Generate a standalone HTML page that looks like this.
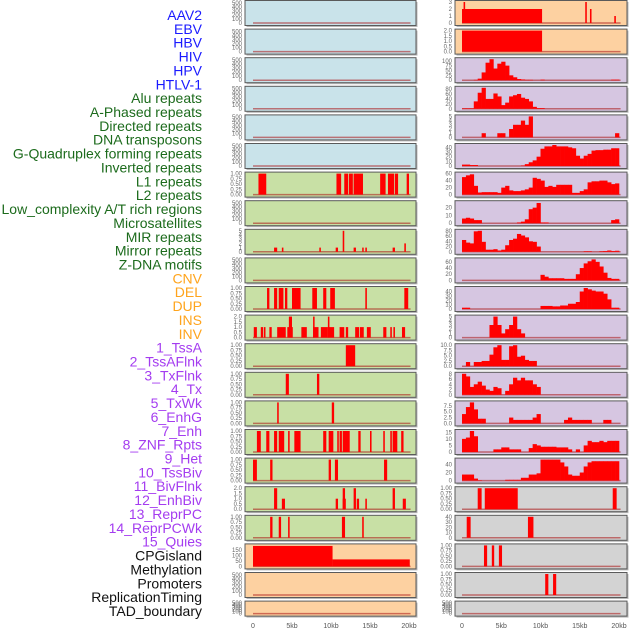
<!DOCTYPE html>
<html><head><meta charset="utf-8"><style>
html,body{margin:0;padding:0;background:#fff;}
svg{display:block;font-family:"Liberation Sans",sans-serif;}
</style></head><body>
<svg id="chart" width="630" height="630" viewBox="0 0 630 630" xmlns="http://www.w3.org/2000/svg"></svg>
<script>
// ---- category labels ----
const labelTexts = ["AAV2","EBV","HBV","HIV","HPV","HTLV-1","Alu repeats","A-Phased repeats","Directed repeats","DNA transposons","G-Quadruplex forming repeats","Inverted repeats","L1 repeats","L2 repeats","Low_complexity A/T rich regions","Microsatellites","MIR repeats","Mirror repeats","Z-DNA motifs","CNV","DEL","DUP","INS","INV","1_TssA","2_TssAFlnk","3_TxFlnk","4_Tx","5_TxWk","6_EnhG","7_Enh","8_ZNF_Rpts","9_Het","10_TssBiv","11_BivFlnk","12_EnhBiv","13_ReprPC","14_ReprPCWk","15_Quies","CPGisland","Methylation","Promoters","ReplicationTiming","TAD_boundary"];
const labelGroups = ["v","v","v","v","v","v","r","r","r","r","r","r","r","r","r","r","r","r","r","s","s","s","s","s","c","c","c","c","c","c","c","c","c","c","c","c","c","c","c","o","o","o","o","o"];
const xTickLabels = ["0","5kb","10kb","15kb","20kb"];
const xTickValues = [0,5,10,15,20];

// ---- right column histograms (0.5kb bins) ----
const hHIV = [0,0,0,2,8,40,90,108,60,85,95,75,25,15,6,4,2,2,0,0,3,0,0,0,0,0,0,0,0,0,0,0,0,0,0,0,0,0,3,3];
const hHPV = [2,2,2,30,65,85,40,40,62,50,15,25,50,55,60,45,40,30,8,3,3,0,0,0,0,0,0,0,0,0,0,0,0,0,0,0,0,0,0,0];
const hAlu = [0,0,0,0,0,1,0,0,0,1,1,0,2,3,3,4,3,5,0,0,0,0,0,0,0,0,0,0,0,0,0,0,0,0,0,0,0,0,0,1];
const hAPhased = [3,3,2,2,0,0,0,0,0,0,0,0,0,0,0,1,4,8,12,20,37,42,42,45,42,42,42,40,38,22,16,22,26,33,34,34,35,35,38,38];
const hDirected = [50,55,58,25,6,7,7,7,7,5,20,25,12,10,10,12,15,20,48,45,40,22,25,22,28,28,28,28,5,5,10,15,35,38,38,40,40,35,30,32];
const hDNA = [6,7,6,4,4,0,0,0,0,0,0,0,0,0,1,2,5,18,20,26,1,1,0,0,0,0,0,0,0,0,0,0,0,0,0,0,0,0,4,5];
const hRow8 = [45,35,32,78,80,38,8,8,10,5,8,25,45,50,68,62,55,40,38,20,0,0,0,0,0,0,0,0,0,0,0,2,2,0,0,2,3,5,3,4];
const hRow9 = [0,0,0,0,0,0,0,0,0,0,0,0,0,0,0,0,0,0,0,0,18,12,7,7,7,7,5,5,5,20,40,55,62,68,60,45,25,8,5,5];
const hRow10 = [3,3,0,0,0,0,0,0,0,0,0,0,0,0,0,0,0,0,0,0,7,7,7,6,6,8,8,12,12,16,40,48,45,42,40,40,35,22,3,3];
const hRow11 = [0,0,0,0,0,0,0,3,5,3,1,2,3,5,2,1,0,0,0,0,0,0,0,0,0,0,0,0,0,0,0,0,0,0,0,0,0,0,0,0];
const hRow12 = [0,2,0,2,2,2.5,2.5,5.5,9,10,3,3,9.5,10,4.5,5,3,2.5,2.5,0,0,0,0,0,0,0,0,0,0,0,0,0,0,0,0,0,0,0,0,0];
const hRow13 = [8,7,3,4,5,3.5,2,1.5,3,2.5,0,1.5,4,6.5,5.5,6.5,5.5,5.5,4,3,0,0,0,0,0,0,0,0,0,0,0,0,0,0,0,0,0,0,0,0];
const hRow14 = [4,7,9,6,2,2,0,0,0,0,0,0,2.5,1.5,1.5,1.5,1.5,1.5,2.5,4,0,0,0,0,0,0,1.5,2.5,1.5,1.5,1.5,1.5,1.5,0,0,0,1.5,1.5,0,0];
const hRow15 = [10,11,16,12,0,0,0,0,2,2,3.5,3.5,2,2,2,0,0,3,6,5,4,4,4,4,3.5,3.5,3.5,2,0,2,0,5,8.5,7.5,7.5,8.5,7.5,8.5,8.5,8.5];
const hRow16 = [15,15,15,5,1,0,0,0,0,0,0,2,2,2,2,7,7,15,15,18,52,52,52,52,52,45,35,15,12,12,20,35,45,48,48,48,48,48,48,48];

// ---- segment series [startKb, endKb, value] ----
const sAAV2 = [[0,10.2,2],[0.2,0.4,3],[15.7,15.9,3],[16.3,16.5,2],[19.4,19.6,1]];
const sEBV = [[0,10.2,2]];
const sGray17 = [[2.0,2.5,1],[2.9,7.1,1],[19.2,19.7,1]];
const sGray18 = [[0.6,1.1,40],[8.4,9.1,40]];
const sGray19 = [[2.8,3.2,1],[3.8,4.1,1],[4.7,5.1,1]];
const sGray20 = [[10.6,11.0,1],[11.6,12.0,1]];
const sL6 = [[0.7,1.7,1],[10.7,11.3,1],[11.7,12.2,1],[12.3,12.8,1],[12.9,14.1,1],[16.3,17,1],[17.3,18.1,1],[18.2,18.6,1],[19.7,20,1]];
const sL8 = [[2.7,3.1,1],[3.7,3.9,1],[8.5,8.7,1],[10.6,10.9,1],[11.5,11.7,5],[12.9,13.2,1],[14.0,14.1,1],[14.4,14.6,1],[17.9,18.2,1],[19.4,19.6,2]];
const sL10 = [[1.8,2.1,1],[2.7,3.1,1],[3.3,3.9,1],[4.1,4.4,1],[5.0,6.1,1],[7.6,8.2,1],[9.0,9.4,1],[9.9,10.5,1],[14.4,14.6,1],[19.4,19.9,1]];
const sL11 = [[0.1,0.5,1],[1.0,1.3,1],[1.4,1.6,1],[2.1,2.4,1],[3.1,4.2,1],[4.4,5.1,1],[4.6,5.0,2],[6.2,6.9,1],[7.7,8.4,1],[7.7,7.9,2],[8.7,9.5,1],[9.5,10.4,1],[9.6,9.8,2],[11.1,11.7,1],[11.9,12.2,1],[13.1,13.6,1],[13.7,14.2,1],[14.6,15.1,1],[16.7,17.1,1],[17.6,17.8,1],[18.0,18.2,1],[19.1,19.5,1]];
const sL12 = [[11.9,13.1,1]];
const sL13 = [[4.2,4.6,1],[8.2,8.5,1]];
const sL14 = [[3.1,3.3,1],[10.1,10.4,1]];
const sL15 = [[0.5,1.0,1],[1.7,2.1,1],[2.7,3.1,1],[3.3,4.0,1],[4.5,4.7,1],[5.3,6.1,1],[9.0,9.4,1],[9.7,10.3,1],[10.8,11.0,1],[11.1,11.4,1],[11.5,12.4,1],[13.5,13.8,1],[15.0,15.2,1],[16.7,16.9,1],[17.6,17.8,1],[17.9,18.5,1],[19.0,19.3,1]];
const sL16 = [[0.0,0.5,1],[2.2,2.5,1],[9.7,10.0,1],[10.5,10.9,1],[16.8,17.2,1]];
const sL17 = [[2.7,3.1,2],[3.7,4.1,1],[10.6,10.9,1],[11.5,11.8,2],[11.5,11.9,1],[12.9,13.2,2],[13.3,13.6,1],[14.4,14.6,1],[17.9,18.2,2],[19.2,19.6,1]];
const sL18 = [[2.2,2.5,1],[3.3,3.6,1],[4.5,4.7,1],[11.4,11.8,1],[14.0,14.2,1]];
const sL19 = [[0,10.2,190],[10.2,20.1,65]];

// ---- tick label sets ----
const tEmpty = [0,100,200,300,400,500];
const tUnit = [0,0.25,0.5,0.75,1];
const tUnitLbl = ["0.00","0.25","0.50","0.75","1.00"];

const COL = {blue:"#c9e3ea", green:"#c8e0a5", orange:"#fdd1a1", purple:"#d6c6e1", gray:"#d3d3d3"};
const LBLCOL = {v:"#1a1aff", r:"#1c6b1c", s:"#ffa41c", c:"#a43cf0", o:"#111"};

const svg = document.getElementById('chart');
const NS = "http://www.w3.org/2000/svg";
function mk(tag, attrs, parent){
  const e = document.createElementNS(NS, tag);
  for (const k in attrs) e.setAttribute(k, attrs[k]);
  (parent||svg).appendChild(e);
  return e;
}
// axis functions
function xL(kb){ return 253 + kb*7.8; }
function xR(kb){ return 462 + kb*7.85; }
function rowTop(i){ return 0.5 + i*28.6; }
function rowH(i){ return i===21 ? 15 : 25; }

// left labels
labelTexts.forEach((t,i)=>{
  const e = mk('text',{x:202,y:15+i*13.86+5,'text-anchor':'end','font-size':'14',fill:LBLCOL[labelGroups[i]]});
  e.textContent = t;
  
  
});

function panel(col, i, bg, yMax, ticks, tickLbls, hist, segs){
  const xf = col==='L' ? xL : xR;
  const left = col==='L' ? 245 : 455;
  const w = col==='L' ? 171 : 172;
  const top = rowTop(i), h = rowH(i);
  const g = mk('g',{});
  
  
  mk('rect',{x:left+1.5,y:top+1.5,width:w,height:h,fill:'#b8b8b8'},g);
  const bgr = mk('rect',{x:left,y:top,width:w,height:h,fill:bg,stroke:'#5a5a5a','stroke-width':1},g);
  
  
  const base = top + h - 2.5;
  const sc = (h - 4) / yMax;
  const yf = v => base - v*sc;
  // y ticks
  ticks.forEach((t,k)=>{
    const e = mk('text',{x:left-3,y:yf(t)+2,'text-anchor':'end','font-size':'6',fill:'#666'},g);
    e.textContent = tickLbls ? tickLbls[k] : String(t);
    
    
  });
  // baseline
  const bl = mk('line',{x1:xf(0),x2:xf(20.2),y1:base,y2:base,stroke:'rgba(170,20,20,0.55)','stroke-width':1.5},g);
  
  
  if (hist){
    hist.forEach((v,k)=>{
      if (v<=0) return;
      const x0 = xf(k*0.5), x1 = xf(k*0.5+0.5);
      const r = mk('rect',{x:x0,y:yf(v),width:x1-x0+0.3,height:base-yf(v),fill:'#ff0000'},g);
      
      
    });
  }
  if (segs){
    segs.forEach(s=>{
      const x0 = xf(s[0]), x1 = xf(s[1]);
      const r = mk('rect',{x:x0,y:yf(s[2]),width:Math.max(x1-x0,1.5),height:base-yf(s[2]),fill:'#ff0000'},g);
      
      
    });
  }
}
const E = [520, tEmpty, null];
// left column
for (let i=0;i<6;i++) panel('L',i,COL.blue,E[0],E[1],null,null,null);
panel('L',6,COL.green,1,tUnit,tUnitLbl,null,sL6);
panel('L',7,COL.green,E[0],E[1],null,null,null);
panel('L',8,COL.green,5,[0,1,2,3,4,5],null,null,sL8);
panel('L',9,COL.green,E[0],E[1],null,null,null);
panel('L',10,COL.green,1,tUnit,tUnitLbl,null,sL10);
panel('L',11,COL.green,2,[0,0.5,1,1.5,2],["0.0","0.5","1.0","1.5","2.0"],null,sL11);
panel('L',12,COL.green,1,tUnit,tUnitLbl,null,sL12);
panel('L',13,COL.green,1,tUnit,tUnitLbl,null,sL13);
panel('L',14,COL.green,1,tUnit,tUnitLbl,null,sL14);
panel('L',15,COL.green,1,tUnit,tUnitLbl,null,sL15);
panel('L',16,COL.green,1,tUnit,tUnitLbl,null,sL16);
panel('L',17,COL.green,2,[0,0.5,1,1.5,2],["0.0","0.5","1.0","1.5","2.0"],null,sL17);
panel('L',18,COL.green,1,tUnit,tUnitLbl,null,sL18);
panel('L',19,COL.orange,195,[0,50,100,150],null,null,sL19);
panel('L',20,COL.orange,E[0],E[1],null,null,null);
panel('L',21,COL.orange,E[0],E[1],null,null,null);
// right column
panel('R',0,COL.orange,3,[0,1,2,3],null,null,sAAV2);
panel('R',1,COL.orange,2,[0,0.5,1,1.5,2],["0.0","0.5","1.0","1.5","2.0"],null,sEBV);
panel('R',2,COL.purple,108,[0,25,50,75,100],null,hHIV,null);
panel('R',3,COL.purple,85,[0,20,40,60,80],null,hHPV,null);
panel('R',4,COL.purple,5,[0,1,2,3,4,5],null,hAlu,null);
panel('R',5,COL.purple,45,[0,10,20,30,40],null,hAPhased,null);
panel('R',6,COL.purple,60,[0,20,40,60],null,hDirected,null);
panel('R',7,COL.purple,27,[0,10,20],null,hDNA,null);
panel('R',8,COL.purple,80,[0,20,40,60,80],null,hRow8,null);
panel('R',9,COL.purple,68,[0,20,40,60],null,hRow9,null);
panel('R',10,COL.purple,48,[0,10,20,30,40],null,hRow10,null);
panel('R',11,COL.purple,5,[0,1,2,3,4,5],null,hRow11,null);
panel('R',12,COL.purple,10,[0,2.5,5,7.5,10],["0.0","2.5","5.0","7.5","10.0"],hRow12,null);
panel('R',13,COL.purple,8,[0,2,4,6,8],null,hRow13,null);
panel('R',14,COL.purple,9,[0,2.5,5,7.5],["0.0","2.5","5.0","7.5"],hRow14,null);
panel('R',15,COL.purple,16,[0,5,10,15],null,hRow15,null);
panel('R',16,COL.purple,52,[0,20,40],null,hRow16,null);
panel('R',17,COL.gray,1,tUnit,tUnitLbl,null,sGray17);
panel('R',18,COL.gray,40,[0,10,20,30,40],null,null,sGray18);
panel('R',19,COL.gray,1,tUnit,tUnitLbl,null,sGray19);
panel('R',20,COL.gray,1,tUnit,tUnitLbl,null,sGray20);
panel('R',21,COL.gray,E[0],E[1],null,null,null);

// x axes
[['L',xL],['R',xR]].forEach(([c,f])=>{
  xTickValues.forEach((v,k)=>{
    const e = mk('text',{x:f(v),y:628,'text-anchor':'middle','font-size':'7',fill:'#555'});
    e.textContent = xTickLabels[k];
    
    
  });
});
</script>
</body></html>
